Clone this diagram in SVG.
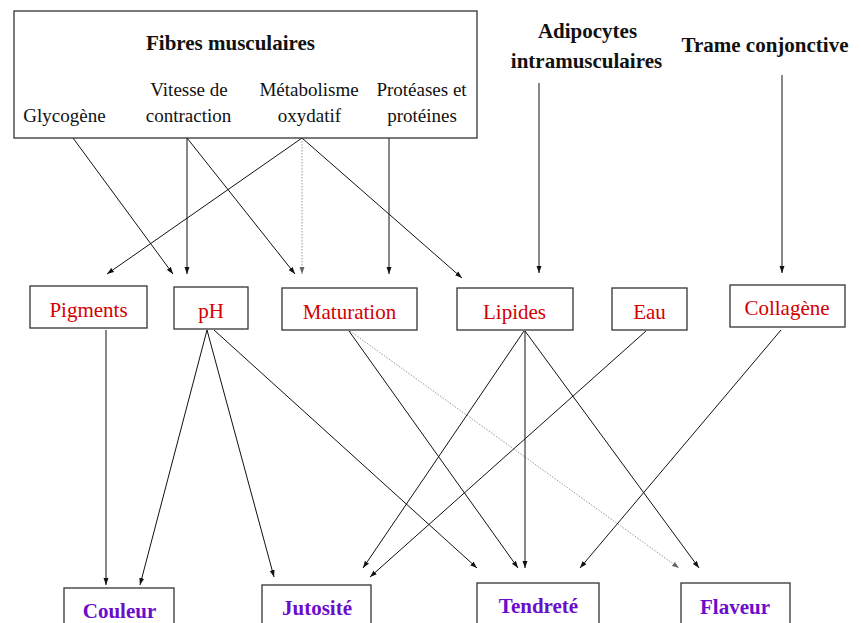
<svg xmlns="http://www.w3.org/2000/svg" width="861" height="623" viewBox="0 0 861 623">
<style>
.box{fill:#fff;stroke:#333;stroke-width:1.3}
.t{font-family:"Liberation Serif","Times New Roman",serif;text-anchor:middle}
.s{font-size:19px;fill:#111}
.h{font-size:21px;font-weight:bold;fill:#111}
.m{font-size:21px;fill:#d40000}
.b{font-size:21px;font-weight:bold;fill:#6a0dcc}
.c{stroke:#111;stroke-width:1;fill:none;marker-end:url(#ah)}
.d{stroke:#999;stroke-width:1;stroke-dasharray:1.5,1.5;fill:none;marker-end:url(#ahg)}
</style>
<defs>
<marker id="ah" markerUnits="userSpaceOnUse" markerWidth="8" markerHeight="6" refX="7" refY="3" orient="auto">
<path d="M0,0.5 L7,3 L0,5.5 Z" fill="#111"/>
</marker>
<marker id="ahg" markerUnits="userSpaceOnUse" markerWidth="8" markerHeight="6" refX="7" refY="3" orient="auto">
<path d="M0,0.5 L7,3 L0,5.5 Z" fill="#666"/>
</marker>
</defs>
<rect width="861" height="623" fill="#fff"/>

<g id="connectors">
<line class="c" x1="73" y1="138" x2="173" y2="274"/>
<line class="c" x1="187" y1="138" x2="187" y2="274"/>
<line class="c" x1="187" y1="138" x2="295" y2="274"/>
<line class="c" x1="302" y1="138" x2="107" y2="274"/>
<line class="d" x1="302" y1="138" x2="302" y2="274"/>
<line class="c" x1="302" y1="138" x2="462" y2="278"/>
<line class="c" x1="389" y1="138" x2="389" y2="274"/>
<line class="c" x1="539" y1="83" x2="539" y2="273"/>
<line class="c" x1="782" y1="75" x2="782" y2="273"/>

<line class="c" x1="106" y1="330" x2="106" y2="585"/>
<line class="c" x1="207" y1="330" x2="140" y2="585"/>
<line class="c" x1="207" y1="330" x2="274" y2="577"/>
<line class="c" x1="214" y1="330" x2="477" y2="568"/>
<line class="c" x1="349" y1="331" x2="518" y2="568"/>
<line class="d" x1="350" y1="331" x2="679" y2="568"/>
<line class="c" x1="524" y1="331" x2="363" y2="568"/>
<line class="c" x1="525" y1="331" x2="525" y2="568"/>
<line class="c" x1="525" y1="331" x2="699" y2="568"/>
<line class="c" x1="646" y1="331" x2="370" y2="577"/>
<line class="c" x1="781" y1="330" x2="580" y2="568"/>
</g>

<g id="fibres">
<rect class="box" x="14" y="11" width="463" height="127"/>
<text class="t h" x="230.5" y="50">Fibres musculaires</text>
<text class="t s" x="64.5" y="122">Glycogène</text>
<text class="t s" x="189" y="96">Vitesse de</text>
<text class="t s" x="188.5" y="122">contraction</text>
<text class="t s" x="309" y="96">Métabolisme</text>
<text class="t s" x="309.5" y="122">oxydatif</text>
<text class="t s" x="421.5" y="96">Protéases et</text>
<text class="t s" x="422" y="122">protéines</text>
</g>

<g id="adipocytes">
<text class="t h" x="587.5" y="38">Adipocytes</text>
<text class="t h" x="586.5" y="68">intramusculaires</text>
</g>
<g id="trame">
<text class="t h" x="765" y="52">Trame conjonctive</text>
</g>

<g id="pigments"><rect class="box" x="30" y="286" width="117" height="42"/><text class="t m" x="88.5" y="317">Pigments</text></g>
<g id="ph"><rect class="box" x="174" y="287" width="74" height="42"/><text class="t m" x="211" y="318">pH</text></g>
<g id="maturation"><rect class="box" x="282" y="288" width="135" height="42"/><text class="t m" x="349.5" y="319">Maturation</text></g>
<g id="lipides"><rect class="box" x="457" y="288" width="116" height="42"/><text class="t m" x="514.5" y="319">Lipides</text></g>
<g id="eau"><rect class="box" x="612" y="288" width="75" height="42"/><text class="t m" x="649.5" y="319">Eau</text></g>
<g id="collagene"><rect class="box" x="730" y="285" width="115" height="42"/><text class="t m" x="787" y="315">Collagène</text></g>

<g id="couleur"><rect class="box" x="64" y="588" width="110" height="60"/><text class="t b" x="119.5" y="618">Couleur</text></g>
<g id="jutosite"><rect class="box" x="262" y="585" width="109" height="60"/><text class="t b" x="317" y="615">Jutosité</text></g>
<g id="tendrete"><rect class="box" x="477" y="583" width="122" height="60"/><text class="t b" x="538.5" y="613">Tendreté</text></g>
<g id="flaveur"><rect class="box" x="681" y="583" width="109" height="60"/><text class="t b" x="735" y="614">Flaveur</text></g>
</svg>
